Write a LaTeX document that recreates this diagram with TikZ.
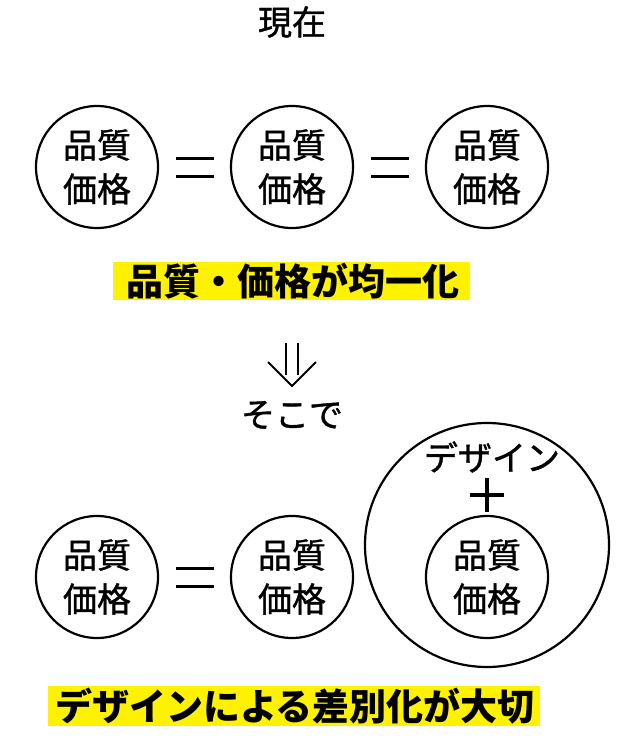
\documentclass[tikz,border=0pt]{standalone}
\usepackage{fontspec}
\setmainfont[FakeBold=1.2]{Noto Sans CJK JP}
\newfontfamily\hlfont{Noto Sans CJK JP}
\begin{document}
\begin{tikzpicture}[x=1pt,y=-1pt,
  qc/.style={draw,line width=2.2pt,circle,minimum size=122pt,inner sep=0pt,align=center,font=\fontsize{34}{44}\selectfont},
  eqs/.style={line width=3pt},
  hl/.style={fill=yellow,inner sep=0pt,font=\hlfont\fontsize{37}{38}\selectfont\bfseries},
  lab/.style={font=\fontsize{34}{36}\selectfont}]
\useasboundingbox (0,0) rectangle (622,750);
\node[lab] (now) at (292,22) {現在};
\node[qc] (a1) at (97,167) {品質\\価格};
\node[qc] (a2) at (292,167) {品質\\価格};
\node[qc] (a3) at (487,167) {品質\\価格};
\foreach \x/\y in {195/167,390/167,195/577}{
  \draw[eqs] (\x-19,\y-9) -- (\x+19,\y-9) (\x-19,\y+9) -- (\x+19,\y+9);}
\node[fill=yellow,minimum width=357pt,minimum height=38pt] (h1) at (291,281) {};
\node[hl] (t1) at (293,281) {品質・価格が均一化};
\draw[line width=2pt] (286,343) -- (286,375) (298,343) -- (298,375);
\draw[line width=2pt,line join=miter] (268,362) -- (292,386) -- (316,362);
\node[lab] (soko) at (292,415) {そこで};
\node[qc] (b1) at (97,577) {品質\\価格};
\node[qc] (b2) at (292,577) {品質\\価格};
\node[draw,line width=2.2pt,circle,minimum size=244pt] (big) at (487,545) {};
\node[qc] (b3) at (487,577) {品質\\価格};
\node[lab] (des) at (492,457) {デザイン};
\draw[line width=4pt] (487,478) -- (487,512) (470,495) -- (504,495);
\node[fill=yellow,minimum width=492pt,minimum height=40pt] (h2) at (294,706) {};
\node[hl] (t2) at (295,706) {デザインによる差別化が大切};
\end{tikzpicture}
\end{document}
